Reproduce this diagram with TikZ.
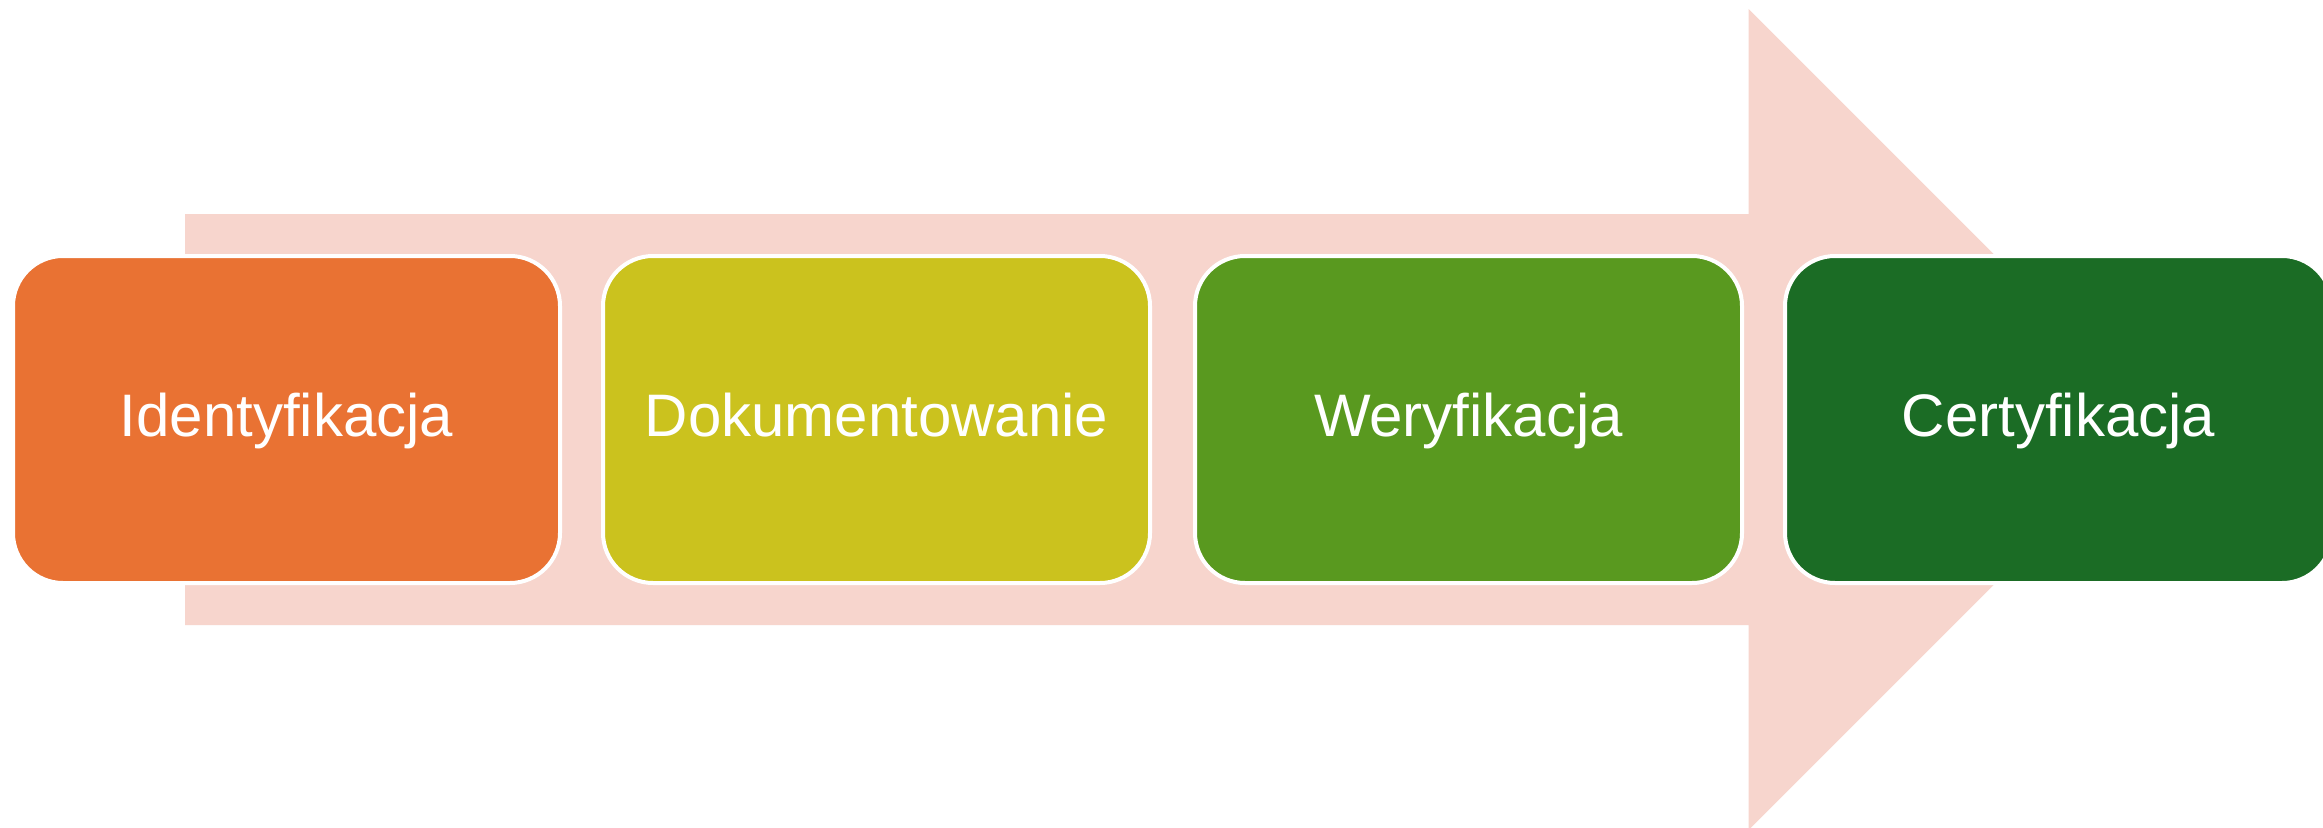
\documentclass[tikz,border=0pt]{standalone}
\usepackage{fontspec}
\setmainfont[Ligatures=NoCommon]{Liberation Sans}
\definecolor{arrowpink}{RGB}{247,213,205}
\definecolor{boxorange}{RGB}{233,114,51}
\definecolor{boxyellow}{RGB}{203,194,30}
\definecolor{boxgreen}{RGB}{89,153,31}
\definecolor{boxdark}{RGB}{27,108,37}
\begin{document}
\begin{tikzpicture}[x=1pt,y=-1pt,
  stagebox/.style={rectangle, rounded corners=50pt, draw=white, line width=4pt,
    minimum width=547pt, minimum height=327pt, inner sep=0pt,
    text=white, font=\fontsize{60}{70}\selectfont, text height=34pt, text depth=0pt}]
\useasboundingbox (0,0) rectangle (2323,827);
\fill[white] (0,0) rectangle (2323,827);
\fill[arrowpink] (185,214) -- (1748.5,214) -- (1748.5,9) -- (2159,419.5)
  -- (1748.5,830) -- (1748.5,625) -- (185,625) -- cycle;
\node[stagebox, fill=boxorange] (s1) at (286.5,419.5) {Identyfikacja};
\node[stagebox, fill=boxyellow] (s2) at (876.5,419.5) {Dokumentowanie};
\node[stagebox, fill=boxgreen] (s3) at (1468.5,419.5) {Weryfikacja};
\node[stagebox, fill=boxdark] (s4) at (2058.5,419.5) {Certyfikacja};
\end{tikzpicture}
\end{document}
